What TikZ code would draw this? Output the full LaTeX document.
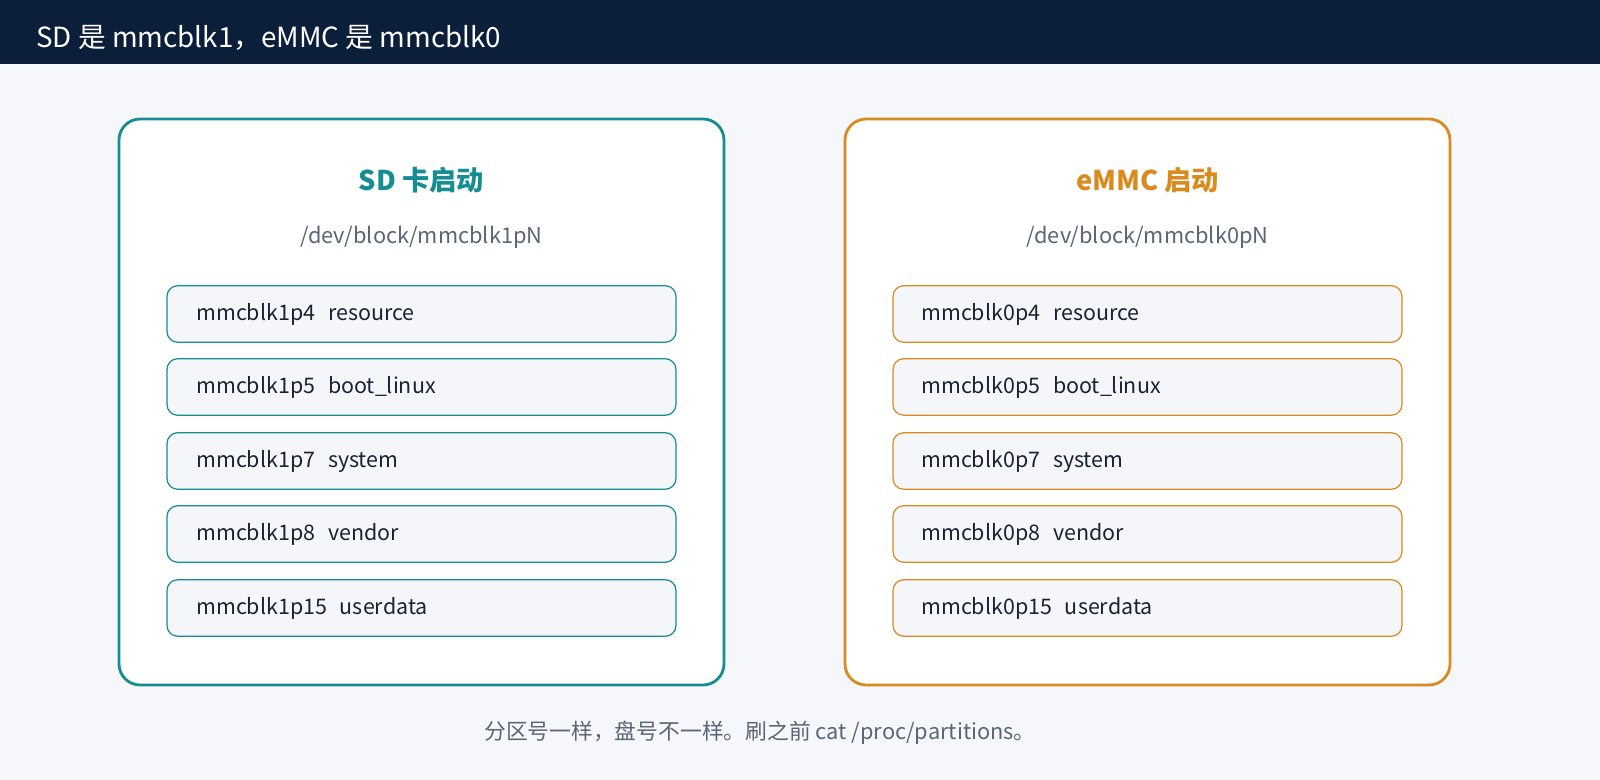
\documentclass[tikz,border=0pt]{standalone}
\usepackage{fontspec}
\setmainfont{Noto Sans CJK SC}
\usepackage{xcolor}
\definecolor{navy}{HTML}{0C1F3A}
\definecolor{pagebg}{HTML}{F5F7FB}
\definecolor{teal}{HTML}{168D92}
\definecolor{amber}{HTML}{DA8B1F}
\definecolor{slate}{HTML}{5B6578}
\definecolor{rowbg}{HTML}{F4F6FA}
\definecolor{ink}{HTML}{1A2233}
\usetikzlibrary{positioning}

\tikzset{
    card/.style={draw=#1, line width=1.6pt, fill=white, rounded corners=12pt},
    part/.style={draw=#1, line width=0.7pt, fill=rowbg, rounded corners=6pt,
        minimum width=10.18cm, minimum height=1.13cm, inner sep=0pt},
    parttext/.style={anchor=west, inner sep=0pt, text=ink, font=\fontsize{12.2}{14}\selectfont},
    cardtitle/.style={text=#1, font=\bfseries\fontsize{15.5}{17}\selectfont},
    devpath/.style={text=slate, font=\fontsize{12.4}{14}\selectfont},
}

\begin{document}
\begin{tikzpicture}[x=0.02cm, y=-0.02cm]
        \fill[pagebg] (0,0) rectangle (1600,780);
        \fill[navy] (0,0) rectangle (1600,64);
        \node[anchor=west, inner sep=0pt, text=white, font=\fontsize{15.8}{18}\selectfont] (head) at (36,38) {SD 是 mmcblk1，eMMC 是 mmcblk0};

        % left: SD card
        \draw[card=teal] (119,119) rectangle (724,685);
        \node[cardtitle=teal] (sdtitle) at (421.5,180) {SD 卡启动};
        \node[devpath] (sdpath) at (421.5,237) {/dev/block/mmcblk1pN};

        % right: eMMC
        \draw[card=amber] (845,119) rectangle (1450,685);
        \node[cardtitle=amber] (emtitle) at (1147.5,180) {eMMC 启动};
        \node[devpath] (empath) at (1147.5,237) {/dev/block/mmcblk0pN};

        \foreach \y/\p/\lbl in {314/4/resource, 387/5/boot\_linux, 461/7/system, 534/8/vendor, 608/15/userdata} {
            \node[part=teal] (sd\p) at (421.5,\y) {};
            \node[parttext] at (196,\y) {mmcblk1p\p\hspace{0.6em}\lbl};
            \node[part=amber] (em\p) at (1147.5,\y) {};
            \node[parttext] at (921,\y) {mmcblk0p\p\hspace{0.6em}\lbl};
        }

        \node[devpath] (note) at (760,733) {分区号一样，盘号不一样。刷之前 cat /proc/partitions。};
    \end{tikzpicture}
\end{document}
